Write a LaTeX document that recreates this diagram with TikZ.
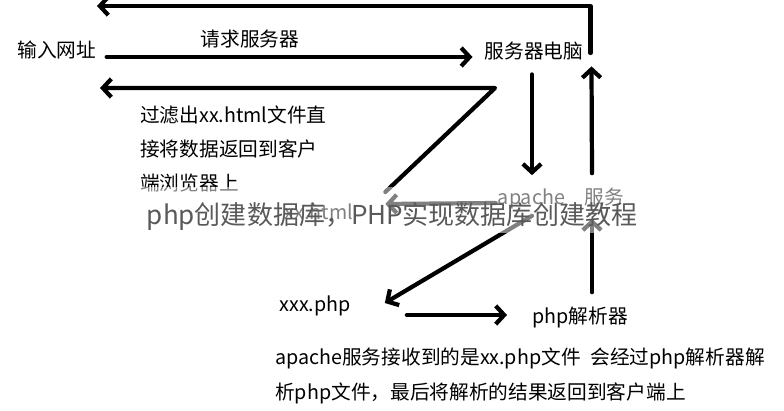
\documentclass[tikz,border=0pt]{standalone}
\usepackage{fontspec}
\setmainfont{Noto Sans CJK SC}
\usetikzlibrary{arrows.meta,calc}
\tikzset{>={Straight Barb[length=6pt,width=13pt]}}
\tikzset{
    txt/.style={inner sep=0pt, text=black, font=\fontsize{14}{24}\selectfont},
    stroke/.style={line width=3pt, line cap=round, line join=round},
    wmark/.style={inner sep=0pt, text=black!65, font=\fontsize{18.5}{22}\selectfont},
}

\begin{document}
\begin{tikzpicture}[x=0.025cm,y=-0.025cm]
    \useasboundingbox (0,0) rectangle (784,410);
    \node[txt] (url) at (57,50) {输入网址};
    \node[txt] (req) at (250,39) {请求服务器};
    \node[txt] (server) at (534,51) {服务器电脑};
    \node[txt,align=left,anchor=west] (filter) at (140,149) {过滤出xx.html文件直\\接将数据返回到客户\\端浏览器上};
    \node[txt] (html) at (319,212) {xx.html};
    \node[txt] (apache) at (561,198) {apache\quad 服务};
    \node[txt] (php) at (315,306) {xxx.php};
    \node[txt] (parser) at (580,317) {php解析器};
    \node[txt,align=left,anchor=west,font=\fontsize{14}{25}\selectfont] (result) at (275,376) {apache服务接收到的是xx.php文件\enspace 会经过php解析器解\\析php文件，最后将解析的结果返回到客户端上};
    \coordinate (topend) at (97,6);
    \coordinate (retend) at (100,88);
    \coordinate (bend) at (495,88);
    \draw[stroke,->] ($(server.east)+(7,2)$) |- (topend);
    \draw[stroke,->] ($(url.east)+(10,7)$) -- ($(server.west)+(-12,6)$);
    \draw[stroke,->] ($(html.east)+(32,-20)$) -- (bend) -- (retend);
    \draw[stroke,->] ($(apache.west)+(-2,5)$) -- ($(html.east)+(32,-8)$);
    \draw[stroke,->] ($(server.south)+(-2,14)$) -- ($(apache.north)+(-29,-12)$);
    \draw[stroke,->] ($(apache.north)+(31,-14)$) -- ($(server.south east)+(8,6)$);
    \draw[stroke,->] ($(apache.south)+(-29,7)$) -- ($(php.east)+(34,-3)$);
    \draw[stroke,->] ($(php.east)+(56,9)$) -- ($(parser.west)+(-25,-2)$);
    \draw[stroke,->] ($(parser.north)+(12,-14)$) -- ($(apache.south)+(31,10)$);
    \fill[white,opacity=0.5] (140,187) rectangle (640,233);
    \node[wmark] (title) at (392,216) {php创建数据库，PHP实现数据库创建教程};
\end{tikzpicture}
\end{document}
